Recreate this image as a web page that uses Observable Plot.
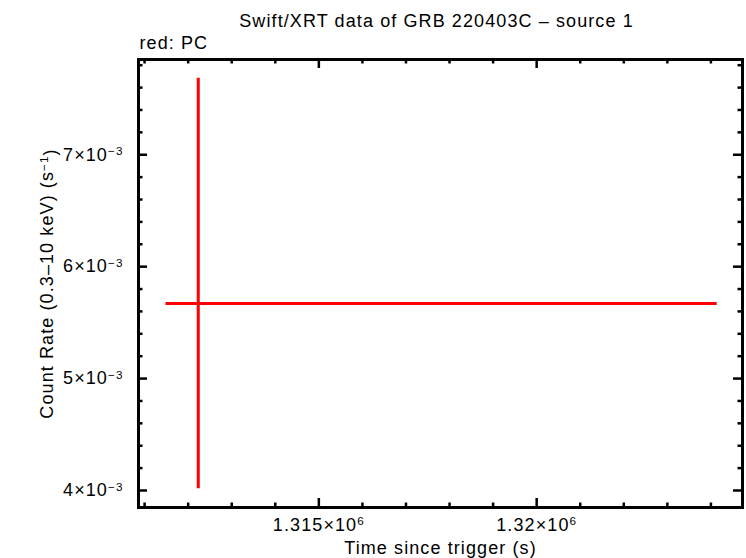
<!DOCTYPE html>
<html>
<head>
<meta charset="utf-8">
<script src="https://cdn.jsdelivr.net/npm/d3@7"></script>
<script src="https://cdn.jsdelivr.net/npm/@observablehq/plot@0.6"></script>
<style>
  html, body { margin: 0; padding: 0; background: #fff; }
  svg text { font-family: "Liberation Sans", Arial, Helvetica, sans-serif; }
</style>
</head>
<body>
<div id="chart"></div>
<script>
// ---- data ----
const time = [1312232];          // s since trigger
const timeErrNeg = [741];
const timeErrPos = [11912];
const rate = [5.670e-3];         // counts/s
const rateErrNeg = [1.655e-3];
const rateErrPos = [2.014e-3];

const xDomain = [1310860, 1324725];
const yDomain = [3.848e-3, 7.851e-3];

const xMajor = [1315000, 1320000];
const xMajorLabels = ["1.315×10^6", "1.32×10^6"];
const xMinor = [1311000, 1312000, 1313000, 1314000, 1316000, 1317000, 1318000, 1319000, 1321000, 1322000, 1323000, 1324000];
const yMajor = [4e-3, 5e-3, 6e-3, 7e-3];
const yMajorLabels = ["4×10^−3", "5×10^−3", "6×10^−3", "7×10^−3"];
const yMinor = [4.2e-3, 4.4e-3, 4.6e-3, 4.8e-3, 5.2e-3, 5.4e-3, 5.6e-3, 5.8e-3, 6.2e-3, 6.4e-3, 6.6e-3, 6.8e-3, 7.2e-3, 7.4e-3, 7.6e-3, 7.8e-3];

const title = "Swift/XRT data of GRB 220403C – source 1";
const subtitle = "red: PC";
const xLabel = "Time since trigger (s)";
const yLabel = "Count Rate (0.3–10 keV) (s^−1^)";

const points = time.map((t, i) => ({
  t, x1: t - timeErrNeg[i], x2: t + timeErrPos[i],
  r: rate[i], y1: rate[i] - rateErrNeg[i], y2: rate[i] + rateErrPos[i]
}));

const W = 746, H = 558;
const mT = 59, mB = 51, mL = 138, mR = 4;
const innerH = H - mT - mB;
const innerW = W - mL - mR;
const major = 9, minor = 4.5, tw = 2.5;

const plot = Plot.plot({
  width: W, height: H,
  marginTop: mT, marginBottom: mB, marginLeft: mL, marginRight: mR,
  style: {fontFamily: '"Liberation Sans", Arial, sans-serif', background: "#fff"},
  x: {domain: xDomain, axis: null},
  y: {domain: yDomain, axis: null},
  marks: [
    // error bars
    Plot.ruleY(points, {y: "r", x1: "x1", x2: "x2", stroke: "#ff0000", strokeWidth: 3}),
    Plot.ruleX(points, {x: "t", y1: "y1", y2: "y2", stroke: "#ff0000", strokeWidth: 3}),
    // ticks: bottom/top
    Plot.tickX(xMajor, {x: d => d, insetTop: innerH - major, stroke: "#000", strokeWidth: tw}),
    Plot.tickX(xMajor, {x: d => d, insetBottom: innerH - major, stroke: "#000", strokeWidth: tw}),
    Plot.tickX(xMinor, {x: d => d, insetTop: innerH - minor, stroke: "#000", strokeWidth: tw}),
    Plot.tickX(xMinor, {x: d => d, insetBottom: innerH - minor, stroke: "#000", strokeWidth: tw}),
    // ticks: left/right
    Plot.tickY(yMajor, {y: d => d, insetRight: innerW - major, stroke: "#000", strokeWidth: tw}),
    Plot.tickY(yMajor, {y: d => d, insetLeft: innerW - major, stroke: "#000", strokeWidth: tw}),
    Plot.tickY(yMinor, {y: d => d, insetRight: innerW - minor, stroke: "#000", strokeWidth: tw}),
    Plot.tickY(yMinor, {y: d => d, insetLeft: innerW - minor, stroke: "#000", strokeWidth: tw}),
    Plot.frame({stroke: "#000", strokeWidth: 3}),
    // tick labels
    Plot.text(xMajor, {x: d => d, frameAnchor: "bottom", text: (d, i) => xMajorLabels[i],
      lineAnchor: "bottom", dy: 23, fontSize: 18, fill: "#000", textAnchor: "middle"}),
    Plot.text(yMajor, {y: d => d, frameAnchor: "left", text: (d, i) => yMajorLabels[i],
      lineAnchor: "middle", dx: -15, fontSize: 18, fill: "#000", textAnchor: "end"}),
    // axis titles
    Plot.text([xLabel], {frameAnchor: "bottom", text: d => d, lineAnchor: "bottom",
      dy: 46, fontSize: 18, fill: "#000", textAnchor: "middle"}),
    Plot.text([yLabel], {frameAnchor: "left", text: d => d, rotate: -90, lineAnchor: "middle",
      dx: -91, dy: 0, fontSize: 18, fill: "#000", textAnchor: "middle"}),
    // title & subtitle
    Plot.text([title], {frameAnchor: "top", text: d => d, lineAnchor: "bottom",
      dy: -33, dx: -4, fontSize: 18, fill: "#000", textAnchor: "middle"}),
    Plot.text([subtitle], {frameAnchor: "top-left", text: d => d, lineAnchor: "bottom",
      dy: -11, dx: 1, fontSize: 18, fill: "#000", textAnchor: "start"})
  ]
});

// letter spacing to mimic the wider original glyphs
d3.select(plot).selectAll("text").attr("letter-spacing", "1.1px");

// turn "a^b" / "a^b^c" into superscript tspans
d3.select(plot).selectAll("text").each(function() {
  const node = this;
  const targets = node.querySelectorAll("tspan").length ? Array.from(node.querySelectorAll("tspan")) : [node];
  targets.forEach(el => {
    const s = el.textContent;
    if (!s.includes("^")) return;
    const parts = s.split("^");
    el.textContent = "";
    const sel = d3.select(el);
    parts.forEach((p, k) => {
      if (p === "") return;
      if (k % 2 === 1) {
        sel.append("tspan").attr("dy", "-0.45em").attr("font-size", "0.65em").text(p);
      } else {
        const ts = sel.append("tspan").text(p);
        if (k > 0) ts.attr("dy", "0.45em");
      }
    });
  });
});

document.getElementById("chart").appendChild(plot);
</script>
</body>
</html>
